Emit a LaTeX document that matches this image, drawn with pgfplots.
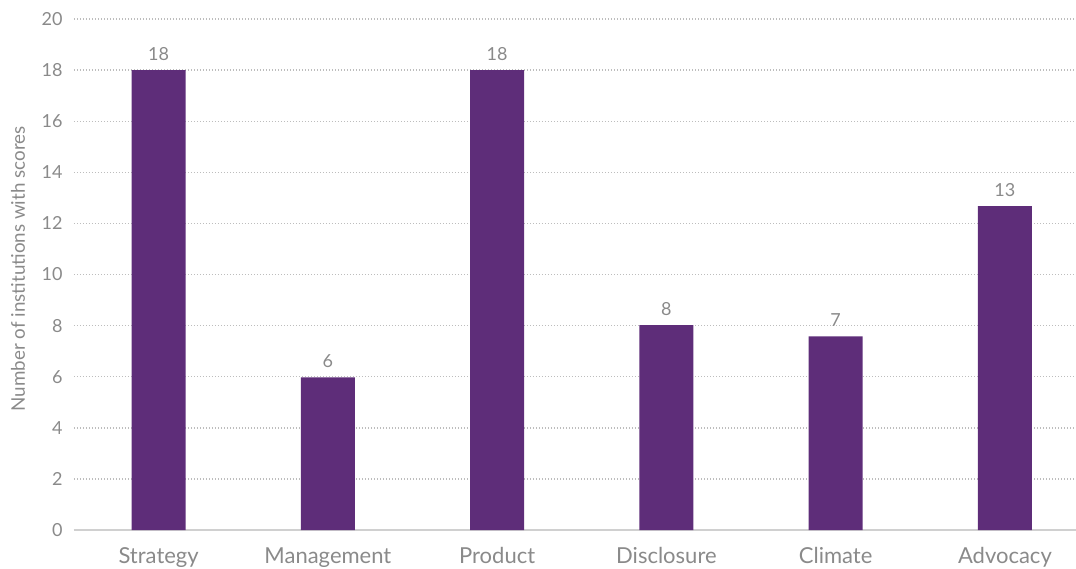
\documentclass[border=0pt]{standalone}
\usepackage{pgfplots}
\pgfplotsset{compat=1.18}
\usepackage{fontspec}
\setmainfont{Lato}
\definecolor{barc}{HTML}{5E2D79}
\definecolor{txt}{HTML}{8A8A8A}
\definecolor{grd}{HTML}{BDBDBD}
\definecolor{axc}{HTML}{D0D0D0}
\begin{document}
\begin{tikzpicture}
\begin{axis}[
  scale only axis, width=501pt, height=255.5pt,
  xmin=-0.5, xmax=5.42, ymin=0, ymax=20,
  ytick={0,2,...,20},
  xtick=data,
  xticklabels={Strategy,Management,Product,Disclosure,Climate,Advocacy},
  axis line style={draw=none},
  major tick length=0pt,
  ymajorgrids,
  grid style={grd, line width=0.7pt, dash pattern=on 0.6pt off 0.9pt},
  extra y ticks={0}, extra y tick labels={},
  extra y tick style={grid=major, major grid style={solid, axc, line width=1pt}},
  /pgf/number format/assume math mode=true,
  yticklabel style={txt, font=\fontsize{9}{11}\selectfont, anchor=east, inner sep=0pt, xshift=-5.5pt},
  xticklabel style={txt, font=\fontsize{11}{13}\selectfont, anchor=base, inner sep=0pt, yshift=-16.5pt},
  ylabel={Number of institutions with scores},
  ylabel style={txt, font=\fontsize{9.4}{11}\selectfont, at={(axis description cs:-0.0559,0.5108)}, anchor=center},
  ybar, bar width=27pt,
  nodes near coords,
  point meta=explicit symbolic,
  nodes near coords style={txt, font=\fontsize{9}{11}\selectfont, anchor=base, inner sep=0pt, yshift=5pt},
]
\addplot[fill=barc, draw=none] table[meta=lbl] {
x y lbl
0 18 18
1 5.97 6
2 18 18
3 8.02 8
4 7.58 7
5 12.68 13
};
\end{axis}
\pgfresetboundingbox
\path (current axis.south west) ++(-37pt,-19pt) coordinate (bl);
\path (current axis.north east) ++(0pt,9.5pt) coordinate (tr);
\path[use as bounding box] (bl) rectangle (tr);
\end{tikzpicture}
\end{document}
